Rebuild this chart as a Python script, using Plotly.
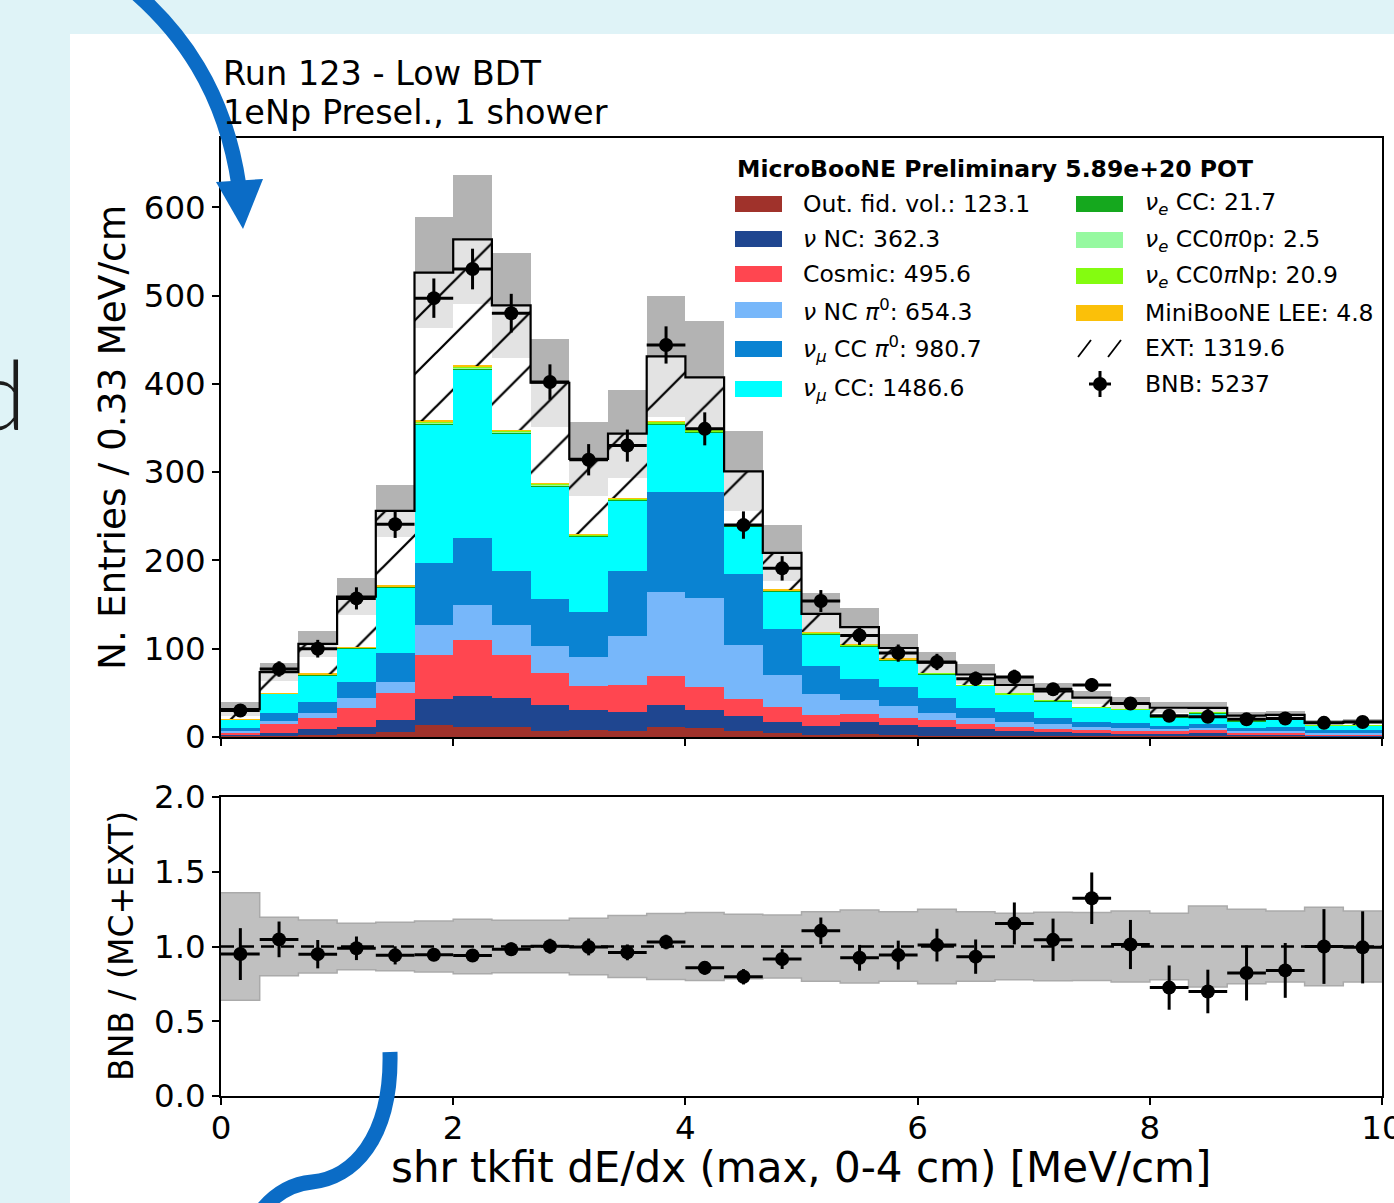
import numpy as np
import plotly.graph_objects as go

W, H = 1394, 1203

# ---- binning: shr tkfit dE/dx (max, 0-4 cm) ----
x_min, x_max, n_bins = 0.0, 10.0, 30

# ---- per-bin predictions (events / bin), bottom of stack first ----
oofv = [1.5, 1.5, 2.3, 3.0, 6.0, 13.4, 11.0, 11.0, 7.2, 8.0, 7.0, 11.7, 9.8, 7.2, 4.2,
        2.3, 3.0, 2.3, 1.5, 1.1, 1.1, 1.2, 1.0, 0.8, 1.0, 1.0, 0.6, 0.6, 0.4, 0.4]
nu_nc = [1.5, 2.7, 6.4, 8.0, 13.3, 30.0, 35.0, 33.5, 29.0, 22.6, 21.7, 24.5, 20.8, 16.9, 12.4,
         10.5, 13.6, 11.3, 9.8, 8.0, 5.3, 4.5, 4.0, 3.5, 2.5, 3.0, 2.5, 2.5, 1.5, 1.5]
cosmic = [2.0, 10.9, 12.4, 22.2, 30.2, 49.2, 63.5, 48.2, 35.9, 27.5, 30.2, 32.8, 26.4, 18.9, 17.0,
          12.1, 9.0, 8.3, 8.3, 5.6, 4.9, 3.9, 2.5, 2.0, 3.0, 4.0, 1.5, 1.2, 1.0, 1.0]
nc_pi0 = [2.2, 3.4, 5.7, 11.3, 13.2, 34.0, 39.6, 34.0, 30.9, 32.8, 55.0, 95.0, 100.0, 61.5, 36.6,
          23.8, 16.3, 13.6, 7.9, 6.4, 6.0, 5.1, 4.0, 3.5, 2.5, 2.5, 2.0, 2.5, 1.5, 1.5]
numu_cc_pi0 = [3.0, 8.3, 13.2, 17.8, 32.1, 70.0, 76.0, 61.1, 52.9, 51.0, 74.1, 113.8, 120.8, 79.7, 51.8,
               32.1, 23.4, 20.7, 16.3, 12.1, 10.6, 6.4, 6.0, 6.0, 3.5, 4.5, 3.5, 4.0, 3.0, 3.0]
numu_cc = [9.4, 21.9, 30.2, 38.1, 74.3, 157.0, 190.0, 156.0, 128.0, 85.0, 79.5, 76.0, 67.0, 54.0, 42.5,
           35.8, 37.7, 31.0, 27.5, 24.9, 20.4, 19.5, 15.7, 15.5, 10.0, 12.0, 8.0, 8.5, 5.4, 5.8]
nue_cc = [0.1, 0.3, 0.5, 0.6, 0.8, 1.9, 2.5, 1.6, 1.4, 1.3, 1.3, 1.4, 1.5, 1.2, 0.9,
          0.8, 0.6, 0.5, 0.4, 0.3, 0.3, 0.3, 0.2, 0.2, 0.2, 0.2, 0.1, 0.1, 0.1, 0.1]
nue_cc0pi0p = [0.0, 0.0, 0.0, 0.1, 0.1, 0.2, 0.2, 0.2, 0.2, 0.2, 0.2, 0.2, 0.2, 0.1, 0.1,
               0.1, 0.1, 0.1, 0.1, 0.1, 0.0, 0.0, 0.0, 0.0, 0.0, 0.0, 0.0, 0.0, 0.0, 0.0]
nue_cc0piNp = [0.1, 0.2, 0.4, 0.5, 0.7, 1.7, 2.3, 1.5, 1.4, 1.3, 1.3, 1.5, 1.5, 1.2, 0.9,
               0.8, 0.6, 0.5, 0.4, 0.3, 0.3, 0.3, 0.2, 0.2, 0.2, 0.2, 0.1, 0.1, 0.1, 0.1]
lee = [0.1, 0.3, 0.3, 0.3, 0.5, 0.6, 0.6, 0.4, 0.3, 0.2, 0.2, 0.2, 0.2, 0.2, 0.1,
       0.1, 0.1, 0.1, 0.0, 0.0, 0.0, 0.0, 0.0, 0.0, 0.0, 0.0, 0.0, 0.0, 0.0, 0.0]
ext = [11.7, 24.0, 34.0, 57.0, 85.0, 168.0, 143.0, 141.3, 114.0, 85.0, 73.0, 74.0, 59.0, 60.0, 42.0,
       21.0, 20.0, 12.4, 12.0, 12.0, 10.0, 10.5, 11.0, 5.8, 10.2, 5.5, 6.0, 5.5, 3.0, 3.7]

# ---- observed BNB counts ----
bnb = [30, 77, 100, 157, 241, 497, 530, 480, 402, 314, 330, 444, 349, 240, 191,
       154, 115, 95, 85, 66, 68, 54, 59, 38, 24, 23, 20, 21, 16, 17]

# ---- fractional prediction uncertainty (stack band and ratio band) ----
unc_stack = [0.26, 0.135, 0.14, 0.13, 0.115, 0.12, 0.13, 0.122, 0.124, 0.132, 0.145, 0.159, 0.157, 0.15, 0.15,
             0.167, 0.17, 0.154, 0.147, 0.16, 0.17, 0.18, 0.16, 0.2, 0.19, 0.19, 0.18, 0.18, 0.2, 0.16]
unc_ratio = [0.36, 0.196, 0.178, 0.156, 0.162, 0.171, 0.182, 0.176, 0.176, 0.189, 0.207, 0.22, 0.227, 0.216, 0.211,
             0.233, 0.244, 0.233, 0.249, 0.233, 0.222, 0.229, 0.227, 0.238, 0.222, 0.271, 0.249, 0.238, 0.262, 0.238]

FONT = "DejaVu Sans"
ARROW = "#0b6cc6"

def fmt1(v):
    return f"{round(float(np.sum(v)), 1):.1f}"

# stacked MC components: (label, colour, values)
components = [
    ("Out. fid. vol.: " + fmt1(oofv), "#a0322b", oofv),
    ("<i>ν</i> NC: " + fmt1(nu_nc), "#1f4690", nu_nc),
    ("Cosmic: " + fmt1(cosmic), "#ff4650", cosmic),
    ("<i>ν</i> NC <i>π</i><sup>0</sup>: " + fmt1(nc_pi0), "#77b7fa", nc_pi0),
    ("<i>ν<sub>μ</sub></i> CC <i>π</i><sup>0</sup>: " + fmt1(numu_cc_pi0), "#0a83d2", numu_cc_pi0),
    ("<i>ν<sub>μ</sub></i> CC: " + fmt1(numu_cc), "#00ffff", numu_cc),
    ("<i>ν<sub>e</sub></i> CC: " + fmt1(nue_cc), "#15a81e", nue_cc),
    ("<i>ν<sub>e</sub></i> CC0<i>π</i>0p: " + fmt1(nue_cc0pi0p), "#96f9a0", nue_cc0pi0p),
    ("<i>ν<sub>e</sub></i> CC0<i>π</i>Np: " + fmt1(nue_cc0piNp), "#84fc10", nue_cc0piNp),
    ("MiniBooNE LEE: " + fmt1(lee), "#fbc009", lee),
]

edges = np.linspace(x_min, x_max, n_bins + 1)
centers = 0.5 * (edges[:-1] + edges[1:])
bw = edges[1] - edges[0]

mc = np.sum([np.asarray(c[2], float) for c in components], axis=0)
ext_a = np.asarray(ext, float)
total = mc + ext_a
bnb_a = np.asarray(bnb, float)
e_stack = np.asarray(unc_stack)
e_ratio = np.asarray(unc_ratio)

fig = go.Figure()

def bar(base, height, **kw):
    return go.Bar(x=centers, y=height, base=base, width=bw, xaxis="x", yaxis="y",
                  hoverinfo="skip", showlegend=False, **kw)

# uncertainty band on the total prediction
fig.add_trace(bar(total * (1 - e_stack), total * e_stack,
                  marker=dict(color="#e3e3e3", line=dict(width=0))))
fig.add_trace(bar(total, total * e_stack,
                  marker=dict(color="#b3b3b3", line=dict(width=0))))

# stacked predictions
running = np.zeros(n_bins)
for label, color, vals in components:
    v = np.asarray(vals, float)
    fig.add_trace(bar(running.copy(), v, marker=dict(color=color, line=dict(width=0))))
    running += v

# EXT (beam-off) on top, hatched
fig.add_trace(bar(running.copy(), ext_a,
                  marker=dict(color="black", line=dict(width=0),
                              pattern=dict(shape="/", size=38, solidity=0.06,
                                           fgcolor="black", bgcolor="rgba(0,0,0,0)",
                                           fillmode="replace"))))

# outline of the total prediction
fig.add_trace(go.Scatter(x=edges, y=np.append(total, total[-1]), mode="lines",
                         line=dict(color="black", width=2.2, shape="hv"),
                         xaxis="x", yaxis="y", hoverinfo="skip", showlegend=False))

# BNB data
fig.add_trace(go.Scatter(x=centers, y=bnb_a, mode="markers",
                         marker=dict(color="black", size=14),
                         error_y=dict(type="data", array=np.sqrt(bnb_a), thickness=3, width=0, color="black"),
                         error_x=dict(type="constant", value=bw / 2, thickness=3, width=0, color="black"),
                         xaxis="x", yaxis="y", hoverinfo="skip", showlegend=False))

# ---- ratio panel ----
fig.add_trace(go.Scatter(x=edges, y=np.append(1 - e_ratio, 1 - e_ratio[-1]), mode="lines",
                         line=dict(color="#aaaaaa", width=1.5, shape="hv"),
                         xaxis="x2", yaxis="y2", hoverinfo="skip", showlegend=False))
fig.add_trace(go.Scatter(x=edges, y=np.append(1 + e_ratio, 1 + e_ratio[-1]), mode="lines",
                         line=dict(color="#aaaaaa", width=1.5, shape="hv"),
                         fill="tonexty", fillcolor="#c0c0c0",
                         xaxis="x2", yaxis="y2", hoverinfo="skip", showlegend=False))
fig.add_trace(go.Scatter(x=[x_min, x_max], y=[1, 1], mode="lines",
                         line=dict(color="black", width=2.6, dash="13px,7px"),
                         xaxis="x2", yaxis="y2", hoverinfo="skip", showlegend=False))
fig.add_trace(go.Scatter(x=centers, y=bnb_a / total, mode="markers",
                         marker=dict(color="black", size=14),
                         error_y=dict(type="data", array=np.sqrt(bnb_a) / total, thickness=3, width=0, color="black"),
                         error_x=dict(type="constant", value=bw / 2, thickness=3, width=0, color="black"),
                         xaxis="x2", yaxis="y2", hoverinfo="skip", showlegend=False))

# ---- axes ----
def px(x):
    return x / W

def py(y):
    return 1 - y / H

axis_style = dict(showline=True, linecolor="black", linewidth=1.5, mirror=True,
                  ticks="outside", ticklen=7, tickwidth=1.5, tickcolor="black",
                  showgrid=False, zeroline=False, automargin=False,
                  ticklabeloverflow="allow",
                  tickfont=dict(family=FONT, size=32.5, color="black"))

x_dom = [px(221), px(1382)]
fig.update_layout(
    width=W, height=H,
    margin=dict(l=0, r=0, t=0, b=0, pad=0, autoexpand=False),
    paper_bgcolor="#dff3f7",
    plot_bgcolor="white",
    barmode="overlay", bargap=0,
    showlegend=False,
    font=dict(family=FONT, color="black"),
    xaxis=dict(domain=x_dom, range=[x_min, x_max], anchor="y",
               tickvals=[0, 2, 4, 6, 8, 10], showticklabels=False, **axis_style),
    yaxis=dict(domain=[py(737), py(138)], range=[0, 678.4], anchor="x",
               tickvals=[0, 100, 200, 300, 400, 500, 600], **axis_style),
    xaxis2=dict(domain=x_dom, range=[x_min, x_max], anchor="y2", ticklabelstandoff=-5,
                tickvals=[0, 2, 4, 6, 8, 10], **axis_style),
    yaxis2=dict(domain=[py(1096), py(797)], range=[0, 2], anchor="x2",
                tickvals=[0, 0.5, 1, 1.5, 2], ticktext=["0.0", "0.5", "1.0", "1.5", "2.0"],
                **axis_style),
)

shapes = []
annotations = []

# white slide panel behind the figure
shapes.append(dict(type="rect", xref="paper", yref="paper", x0=px(70), x1=1.01,
                   y0=-0.01, y1=py(34), fillcolor="white", line=dict(width=0), layer="below"))

def text(x, y, s, size, anchor="left", angle=0, **kw):
    annotations.append(dict(xref="paper", yref="paper", x=px(x), y=py(y), text=s,
                            showarrow=False, xanchor=anchor, yanchor="middle",
                            textangle=angle, font=dict(family=FONT, size=size, color="black"),
                            **kw))

text(221, 74, "Run 123 - Low BDT", 33.5)
text(221, 112, "1eNp Presel., 1 shower", 33.5)
text(112, 437, "N. Entries / 0.33 MeV/cm", 37.5, anchor="center", angle=-90)
text(122, 946, "BNB / (MC+EXT)", 33, anchor="center", angle=-90)
text(801, 1167, "shr tkfit dE/dx (max, 0-4 cm) [MeV/cm]", 42, anchor="center")

# ---- legend ----
LEG = 23.5
text(735, 169, "<b>MicroBooNE Preliminary 5.89e+20 POT</b>", LEG)
left_rows = [204, 239, 274, 310, 349, 389]
right_rows = [204, 240, 276, 313]
for i, (label, color, _) in enumerate(components):
    if i < 6:
        sx, tx, ry = 735, 801, left_rows[i]
    else:
        sx, tx, ry = 1076, 1143, right_rows[i - 6]
    shapes.append(dict(type="rect", xref="paper", yref="paper",
                       x0=px(sx), x1=px(sx + 47), y0=py(ry + 8), y1=py(ry - 8),
                       fillcolor=color, line=dict(width=0)))
    text(tx, ry, label, LEG)

# EXT glyph
for x0 in (1078, 1108):
    shapes.append(dict(type="line", xref="paper", yref="paper",
                       x0=px(x0), y0=py(357), x1=px(x0 + 13), y1=py(340),
                       line=dict(color="black", width=1.8)))
text(1143, 348, "EXT: " + fmt1(ext), LEG)

# BNB glyph
shapes.append(dict(type="line", xref="paper", yref="paper", x0=px(1100), x1=px(1100),
                   y0=py(371), y1=py(397), line=dict(color="black", width=3)))
shapes.append(dict(type="line", xref="paper", yref="paper", x0=px(1089), x1=px(1111),
                   y0=py(384), y1=py(384), line=dict(color="black", width=3)))
shapes.append(dict(type="circle", xref="paper", yref="paper", x0=px(1093), x1=px(1107),
                   y0=py(391), y1=py(377), fillcolor="black", line=dict(width=0)))
text(1143, 384, f"BNB: {int(np.sum(bnb))}", LEG)

# ---- slide decorations ----
def path(cmds):
    out = []
    for c in cmds:
        if isinstance(c, str):
            out.append(c)
        else:
            out.append(f"{px(c[0]):.5f},{py(c[1]):.5f}")
    return " ".join(out)

shapes.append(dict(type="path", xref="paper", yref="paper", layer="above",
                   path=path(["M", (130, -12), "C", (180, 30), (225, 90), (239, 186)]),
                   line=dict(color=ARROW, width=15), fillcolor="rgba(0,0,0,0)"))
shapes.append(dict(type="path", xref="paper", yref="paper", layer="above",
                   path=path(["M", (216, 182), "L", (263, 179), "L", (243, 229), "Z"]),
                   line=dict(width=0), fillcolor=ARROW))
shapes.append(dict(type="path", xref="paper", yref="paper", layer="above",
                   path=path(["M", (390, 1052), "C", (392, 1140), (352, 1178), (312, 1182),
                              "C", (290, 1184), (272, 1196), (258, 1215)]),
                   line=dict(color=ARROW, width=15), fillcolor="rgba(0,0,0,0)"))

annotations.append(dict(xref="paper", yref="paper", x=px(28), y=py(392), text="d",
                        showarrow=False, xanchor="right", yanchor="middle",
                        font=dict(family="Lato", size=96, color="#1c1c1c", weight=300)))

fig.update_layout(shapes=shapes, annotations=annotations)

fig.write_html("out.html")
